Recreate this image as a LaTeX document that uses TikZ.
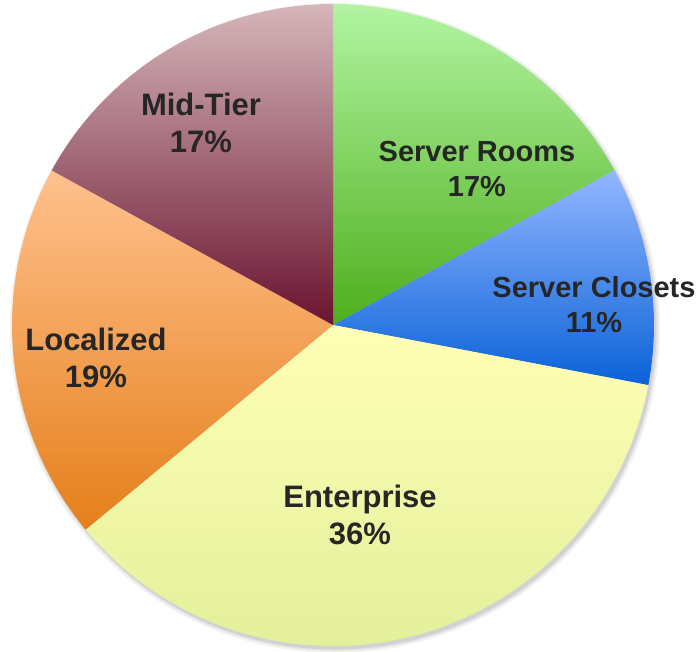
\documentclass[tikz,border=0pt]{standalone}
\usepackage{fontspec}
\setmainfont{Liberation Sans}
\definecolor{labelgray}{HTML}{262626}
\definecolor{roomsTop}{HTML}{B2F4A2}
\definecolor{roomsBot}{HTML}{4EAE1C}
\definecolor{closTop}{HTML}{92B6FF}
\definecolor{closBot}{HTML}{0A62D8}
\definecolor{entTop}{HTML}{FFFFB6}
\definecolor{entBot}{HTML}{E0EE98}
\definecolor{locTop}{HTML}{FFC18E}
\definecolor{locBot}{HTML}{E57F1A}
\definecolor{midTop}{HTML}{D6B6BA}
\definecolor{midBot}{HTML}{6A1330}
\begin{document}
\begin{tikzpicture}[x=1pt,y=1pt,
  lbl/.style={font=\bfseries\fontsize{31}{37}\selectfont, text=labelgray, align=center, inner sep=0pt},
  slbl/.style={lbl, font=\bfseries\fontsize{29}{35}\selectfont}]
\useasboundingbox (0,0) rectangle (700,651);
\coordinate (c) at (333,326);
% soft shadow
\foreach \o/\r in {0.05/325, 0.06/323, 0.08/321.5}
  \fill[black,opacity=\o] ([shift={(2,-3)}]c) circle (\r);
% slices
\shade[top color=roomsTop, bottom color=roomsBot]
  (c) -- ++(28.8:321) arc[start angle=28.8, end angle=90, radius=321] -- cycle;
\shade[top color=closTop, bottom color=closBot]
  (c) -- ++(-10.8:321) arc[start angle=-10.8, end angle=28.8, radius=321] -- cycle;
\shade[top color=entTop, bottom color=entBot]
  (c) -- ++(-140.4:321) arc[start angle=-140.4, end angle=-10.8, radius=321] -- cycle;
\shade[top color=locTop, bottom color=locBot]
  (c) -- ++(151.2:321) arc[start angle=151.2, end angle=219.6, radius=321] -- cycle;
\shade[top color=midTop, bottom color=midBot]
  (c) -- ++(90:321) arc[start angle=90, end angle=151.2, radius=321] -- cycle;
% labels
\node[slbl] (rooms) at (477,482) {Server Rooms\\17\%};
\node[slbl] (closets) at (594,346) {Server Closets\\11\%};
\node[lbl] (enterprise) at (360,136.5) {Enterprise\\36\%};
\node[lbl] (localized) at (96,293) {Localized\\19\%};
\node[lbl] (midtier) at (201,528) {Mid-Tier\\17\%};
\end{tikzpicture}
\end{document}
